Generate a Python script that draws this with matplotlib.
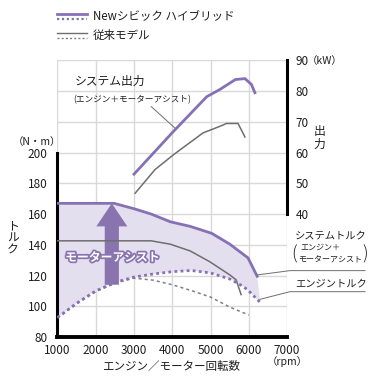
import numpy as np
import matplotlib
matplotlib.use("Agg")
from matplotlib import pyplot as plt
from matplotlib.lines import Line2D
import matplotlib.patheffects as pe

plt.rcParams['font.family'] = ['Noto Sans CJK JP', 'DejaVu Sans']

# torque (N・m) vs rpm
sys_rpm = [1000, 2480, 3000, 3450, 3950, 4470, 5030, 5500, 5980, 6220]
sys_torque = [167, 167, 163.5, 160, 155, 152, 147.5, 140.5, 131.5, 119.5]

eng_rpm = [1000, 1500, 2000, 2500, 3000, 3500, 4000, 4500, 5000, 5500, 5850, 6000, 6200, 6300]
eng_torque = [92.6, 102, 110, 115.5, 119, 121, 122.5, 123.3, 121.7, 117.8, 113, 110, 105, 102.5]

old_rpm = [1000, 3450, 3950, 4470, 4980, 5500, 5670, 5800]
old_torque = [142.6, 142.6, 140.4, 136, 129, 120.5, 117.2, 107.6]

old_eng_rpm = [1000, 1500, 2000, 2500, 3000, 3500, 4000, 4500, 5000, 5500, 6000]
old_eng_torque = [92.5, 101.5, 109.5, 115, 118.3, 117, 114, 110.2, 106, 99.5, 94.3]

# system output (kW) vs rpm
pow_rpm = [3000, 4000, 4900, 5250, 5650, 5900, 6070, 6160]
sys_power = [53, 66.5, 78.2, 80.6, 83.8, 84.1, 82.2, 79.5]

old_pow_rpm = [3030, 3550, 4030, 4800, 5250, 5420, 5720, 5900]
old_power = [46.8, 54.5, 59.3, 66.4, 68.6, 69.5, 69.5, 65.1]

x_ticks = [1000, 2000, 3000, 4000, 5000, 6000, 7000]
torque_ticks = [80, 100, 120, 140, 160, 180, 200]
power_ticks = [40, 50, 60, 70, 80, 90]

PURPLE = '#8671b5'
ARROW = '#8a74b0'
FILL = '#e4dfef'
GRAY = '#6e6e6e'
GRID = '#d9d9d9'
TXT = '#1e1e1e'

fig = plt.figure(figsize=(3.8, 3.85), dpi=100)
ax = fig.add_axes([0.1513, 0.1247, 0.604, 0.7182])
ax.set_xlim(1000, 7000)
ax.set_ylim(80, 260)

ax.set_xticks(x_ticks)
ax.set_yticks(np.arange(80, 261, 20))
ax.set_yticklabels([str(t) if t in torque_ticks else '' for t in np.arange(80, 261, 20)])
ax.grid(True, color=GRID, lw=1.0, zorder=0)
ax.set_axisbelow(True)
ax.tick_params(axis='both', length=0, labelsize=8.5, colors=TXT)
ax.tick_params(axis='y', pad=7)
ax.tick_params(axis='x', pad=5)

for s in ['top', 'right']:
    ax.spines[s].set_visible(False)
ax.spines['left'].set_bounds(80, 200)
ax.spines['left'].set_linewidth(2.2)
ax.spines['bottom'].set_linewidth(2.8)

# shaded motor assist area
ax.fill(sys_rpm + eng_rpm[::-1], sys_torque + eng_torque[::-1],
        color=FILL, lw=0, zorder=1)

ax.arrow(2420, 114, 0, 53, width=370, head_width=810, head_length=15,
         length_includes_head=True, color=ARROW, lw=0, zorder=2)
ax.text(2430, 131.7, 'モーターアシスト', color='white', fontsize=8.5,
        fontweight='bold', ha='center', va='center', zorder=6,
        path_effects=[pe.withStroke(linewidth=2.5, foreground=ARROW)])

ax.plot(old_eng_rpm, old_eng_torque, color='#808080', lw=1.1,
        ls=(0, (2, 2)), zorder=3)
ax.plot(old_rpm, old_torque, color=GRAY, lw=1.1, zorder=3)
ax.plot(eng_rpm, eng_torque, color=PURPLE, lw=2.0, ls=(0, (1, 1.2)), zorder=4)
ax.plot(sys_rpm, sys_torque, color=PURPLE, lw=2.0, zorder=4)

ax2 = ax.twinx()
ax2.set_ylim(0, 90)
ax2.set_yticks(power_ticks)
ax2.tick_params(axis='y', length=0, labelsize=8.5, colors=TXT, pad=6)
for s in ['top', 'left', 'bottom']:
    ax2.spines[s].set_visible(False)
ax2.spines['right'].set_bounds(40, 90)
ax2.spines['right'].set_linewidth(2.2)
ax2.plot(old_pow_rpm, old_power, color=GRAY, lw=1.1)
ax2.plot(pow_rpm, sys_power, color=PURPLE, lw=2.0)

# axis captions
ax.text(-0.089, 0.705, '（N・m）', transform=ax.transAxes, fontsize=7.5,
        ha='center', va='center', color=TXT)
ax.text(-0.194, 0.358, 'ト\nル\nク', transform=ax.transAxes, fontsize=8.5,
        ha='center', va='center', linespacing=0.95, color=TXT)
ax.text(1.142, 0.72, '出\n力', transform=ax.transAxes, fontsize=8.5,
        ha='center', va='center', linespacing=1.0, color=TXT)
ax.text(1.088, 0.998, '（kW）', transform=ax.transAxes, fontsize=7.5,
        ha='left', va='center', color=TXT)
ax.text(1.0, -0.09, '（rpm）', transform=ax.transAxes, fontsize=7.5,
        ha='center', va='center', color=TXT)
ax.text(0.495, -0.1085, 'エンジン／モーター回転数', transform=ax.transAxes,
        fontsize=8.3, ha='center', va='center', color=TXT)

# power annotation
ax.text(1460, 246.7, 'システム出力', fontsize=8.5, ha='left', va='center', color=TXT)
ax.text(1400, 234.3, '(エンジン＋モーターアシスト)', fontsize=6.2,
        ha='left', va='center', color=TXT)
ax.plot([3450, 4070], [230, 216], color=GRAY, lw=0.7, zorder=5)

# right side annotations
ax.text(7209, 146.4, 'システムトルク', fontsize=7.4, ha='left', va='center',
        color=TXT, clip_on=False)
ax.text(7100, 134, '(', fontsize=13, ha='left', va='center', color=TXT,
        fontweight='light', clip_on=False)
ax.text(7360, 138.2, 'エンジン＋', fontsize=5.8, ha='left', va='center',
        color=TXT, clip_on=False)
ax.text(7300, 130.3, 'モーターアシスト', fontsize=5.8, ha='left', va='center',
        color=TXT, clip_on=False)
ax.text(8980, 134, ')', fontsize=13, ha='left', va='center', color=TXT,
        fontweight='light', clip_on=False)
ax.plot([6224, 7078, 9039], [120.4, 123.2, 123.2], color=GRAY, lw=0.7,
        clip_on=False, zorder=5)

ax.text(7209, 115.0, 'エンジントルク', fontsize=7.4, ha='left', va='center',
        color=TXT, clip_on=False)
ax.plot([6290, 7078, 9039], [104.5, 109.5, 109.5], color=GRAY, lw=0.7,
        clip_on=False, zorder=5)

# legend
def fx(px):
    return px / 380.0

def fy(py):
    return 1 - py / 385.0

fig.add_artist(Line2D([fx(57), fx(87)], [fy(14), fy(14)], color=PURPLE, lw=2.0))
fig.add_artist(Line2D([fx(57), fx(87)], [fy(19), fy(19)], color=PURPLE, lw=1.6,
                      ls=(0, (1, 1.2))))
fig.add_artist(Line2D([fx(57), fx(87)], [fy(33), fy(33)], color=GRAY, lw=1.0))
fig.add_artist(Line2D([fx(57), fx(87)], [fy(38), fy(38)], color='#808080', lw=1.0,
                      ls=(0, (1.5, 1.5))))
fig.text(fx(93), fy(16.5), 'Newシビック ハイブリッド', fontsize=8.3,
         ha='left', va='center', color=TXT)
fig.text(fx(93), fy(35), '従来モデル', fontsize=8.3, ha='left', va='center', color=TXT)

fig.savefig('out.png', dpi=100)
